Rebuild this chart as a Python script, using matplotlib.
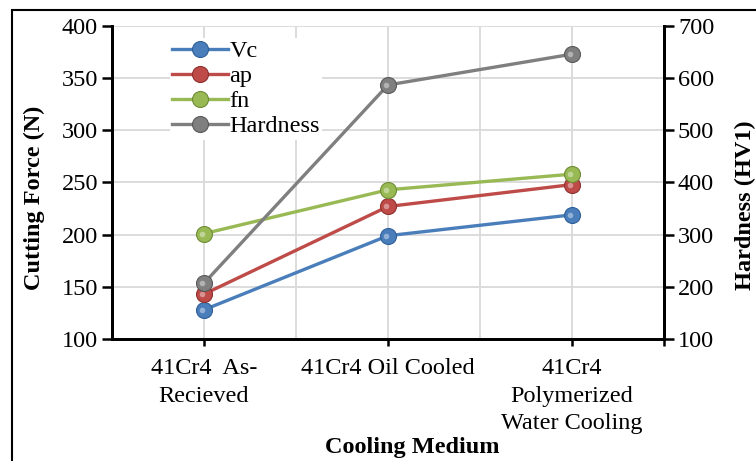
import matplotlib
matplotlib.use("Agg")
import matplotlib.pyplot as plt
from matplotlib.patches import Rectangle
from matplotlib.lines import Line2D

categories = ["41Cr4  As-\nRecieved", "41Cr4 Oil Cooled", "41Cr4\nPolymerized\nWater Cooling"]
vc = [128, 199, 219]
ap = [143, 227, 248]
fn = [201, 243, 258]
hardness = [207, 587, 646]

colors = {"Vc": "#4A7EBB", "ap": "#BE4B48", "fn": "#98B954", "Hardness": "#7F7F7F"}
edge = {"Vc": "#2F5F99", "ap": "#8E302D", "fn": "#6E8C35", "Hardness": "#595959"}

plt.rcParams['font.family'] = ['Liberation Serif', 'DejaVu Serif']
FS = 17.5

W, H = 756, 461
fig = plt.figure(figsize=(W / 100, H / 100), dpi=100)
ax = fig.add_axes([112 / W, 1 - 339 / H, (664 - 112) / W, (339 - 26) / H])
ax2 = ax.twinx()

x = [1, 2, 3]
ax.set_xlim(0.5, 3.5)
ax.set_ylim(100, 400)
ax.set_yticks(range(100, 401, 50))
ax2.set_ylim(100, 700)
ax2.set_yticks(range(100, 701, 100))

# gridlines
for gx in [1, 1.5, 2, 2.5, 3]:
    ax.axvline(gx, color="#D9D9D9", lw=1.3, zorder=0)
for gy in range(150, 401, 50):
    ax.axhline(gy, color="#D9D9D9", lw=1.3, zorder=0)

lw = 2.4
ms = 11.5
handles = []
for name, vals, a in [("Vc", vc, ax), ("ap", ap, ax), ("fn", fn, ax), ("Hardness", hardness, ax2)]:
    a.plot(x, vals, color=colors[name], lw=lw, zorder=3)
    a.plot(x, vals, 'o', ms=ms, color=colors[name], mec=edge[name], mew=0.8, zorder=4)
    a.plot([xx - 0.012 for xx in x], vals, 'o', ms=4, color="white", alpha=0.4, mew=0, zorder=5)
    handles.append(Line2D([0], [0], color=colors[name], lw=lw, marker='o', ms=ms,
                          mfc=colors[name], mec=edge[name], mew=0.8))

ax.set_xticks([1, 2, 3, 3.5])
ax.set_xticklabels(categories + [""], fontsize=FS, linespacing=1.4)
ax.tick_params(axis='x', direction='out', length=5, width=1.8, pad=9)
ax.tick_params(axis='y', direction='out', length=7, width=1.8, labelsize=FS, pad=3)
ax2.tick_params(axis='y', direction='out', length=7, width=1.8, labelsize=FS, pad=3)

for a in (ax, ax2):
    a.spines['top'].set_visible(False)
    for s in ['left', 'right', 'bottom']:
        a.spines[s].set_linewidth(2.0)
        a.spines[s].set_color('black')

fig.text(34 / W, 1 - 198 / H, "Cutting Force (N)", rotation=90, fontsize=FS, fontweight='bold',
         ha='center', va='center')
fig.text(745 / W, 1 - 205 / H, "Hardness (HV1)", rotation=90, fontsize=FS, fontweight='bold',
         ha='center', va='center')
fig.text(412 / W, 1 - 447 / H, "Cooling Medium", fontsize=FS, fontweight='bold',
         ha='center', va='center')

leg = ax2.legend(handles, ["Vc", "ap", "fn", "Hardness"], loc='upper left',
                 bbox_to_anchor=(170 / W, 1 - 38 / H), bbox_transform=fig.transFigure,
                 frameon=True, facecolor='white', edgecolor='none', framealpha=1,
                 fontsize=FS, handlelength=2.3, handletextpad=0.05, labelspacing=0.12,
                 borderpad=0.1, borderaxespad=0)

fig.patches.append(Rectangle((11.5 / W, -0.1), 2, 1.1 - 10.5 / H, transform=fig.transFigure,
                             fill=False, edgecolor='black', lw=1.5))

fig.savefig("out.png", dpi=100)
